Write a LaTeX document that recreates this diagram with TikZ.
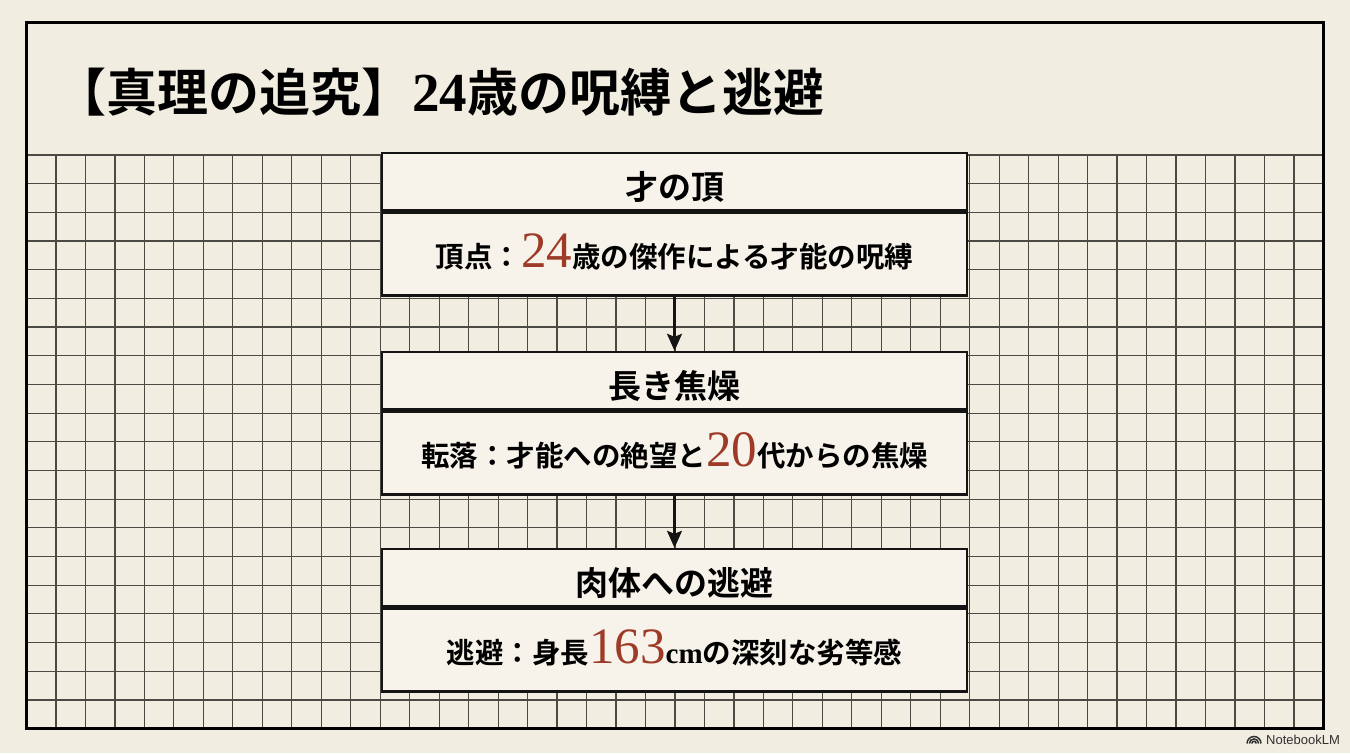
\documentclass[tikz,border=0pt]{standalone}
\usepackage{fontspec}
\setmainfont{Liberation Serif}
\newfontfamily\jp{Noto Sans CJK JP Bold}
\newfontfamily\dg{Liberation Serif}
\newfontfamily\dgb{Liberation Serif Bold}
\newfontfamily\wm{Liberation Sans}
\usetikzlibrary{arrows.meta}
\definecolor{paper}{HTML}{F2EDE1}
\definecolor{boxfill}{HTML}{F7F3EA}
\definecolor{gridline}{HTML}{4C4A45}
\definecolor{boxline}{HTML}{141414}
\definecolor{accent}{HTML}{9E3B28}
\definecolor{wmgray}{HTML}{303030}
\newcommand\bignum[1]{{\dg\fontsize{51}{51}\selectfont\color{accent}#1}}
\begin{document}
\begin{tikzpicture}[x=1pt,y=-1pt,
  hd/.style={draw=boxline,line width=2.4pt,fill=boxfill,minimum width=585pt,
    minimum height=57.5pt,inner sep=0pt,text height=36pt,text depth=0pt,
    font=\jp\fontsize{33}{33}\selectfont},
  bd/.style={draw=boxline,line width=2.4pt,fill=boxfill,minimum width=585pt,
    minimum height=82.5pt,inner sep=0pt,text height=26pt,text depth=0pt,
    font=\jp\fontsize{28.5}{28.5}\selectfont},
  flow/.style={line width=2.3pt,draw=boxline,-{Stealth[length=17pt,width=15pt,inset=3pt]}},
  gridstyle/.style={draw=gridline,line width=1.2pt}]
\useasboundingbox (0,0) rectangle (1350,753);
\fill[paper] (0,0) rectangle (1350,753);
% grid
\foreach \k in {1,...,43} {
  \draw[gridstyle] ({26.5+\k*29.475},155) -- ({26.5+\k*29.475},728.5);
}
\foreach \j in {0,...,19} {
  \draw[gridstyle] (26.5,{155+\j*28.68}) -- (1323,{155+\j*28.68});
}
% frame
\draw[black,line width=3pt] (26.5,22.5) rectangle (1323,728.5);
% title
\node[anchor=base west,inner sep=0pt,font=\jp\fontsize{51}{51}\selectfont] (title)
  at (55,111) {【真理の追究】{\dgb\fontsize{55}{55}\selectfont 24}歳の呪縛と逃避};
% boxes
\node[hd] (h1) at (674.5,181.75) {才の頂};
\node[bd,anchor=north] (b1) at (h1.south) {頂点：\bignum{24}歳の傑作による才能の呪縛};
\node[hd] (h2) at (674.5,380.75) {長き焦燥};
\node[bd,anchor=north] (b2) at (h2.south) {転落：才能への絶望と\bignum{20}代からの焦燥};
\node[hd] (h3) at (674.5,577.75) {肉体への逃避};
\node[bd,anchor=north] (b3) at (h3.south) {逃避：身長\bignum{163}{\dgb\fontsize{29}{29}\selectfont cm}の深刻な劣等感};
% connectors
\draw[flow] (b1.south) -- (h2.north);
\draw[flow] (b2.south) -- (h3.north);
% watermark
\node[anchor=base west,inner sep=0pt,font=\wm\fontsize{13}{13}\selectfont,text=wmgray] (wm)
  at (1266,744) {NotebookLM};
\foreach \r in {2.2,4.6,7} {
  \draw[wmgray,line width=1.5pt] ([shift={(1254,743.5)}]180:\r pt) arc[start angle=180,end angle=0,radius=\r pt];
}
\end{tikzpicture}
\end{document}
